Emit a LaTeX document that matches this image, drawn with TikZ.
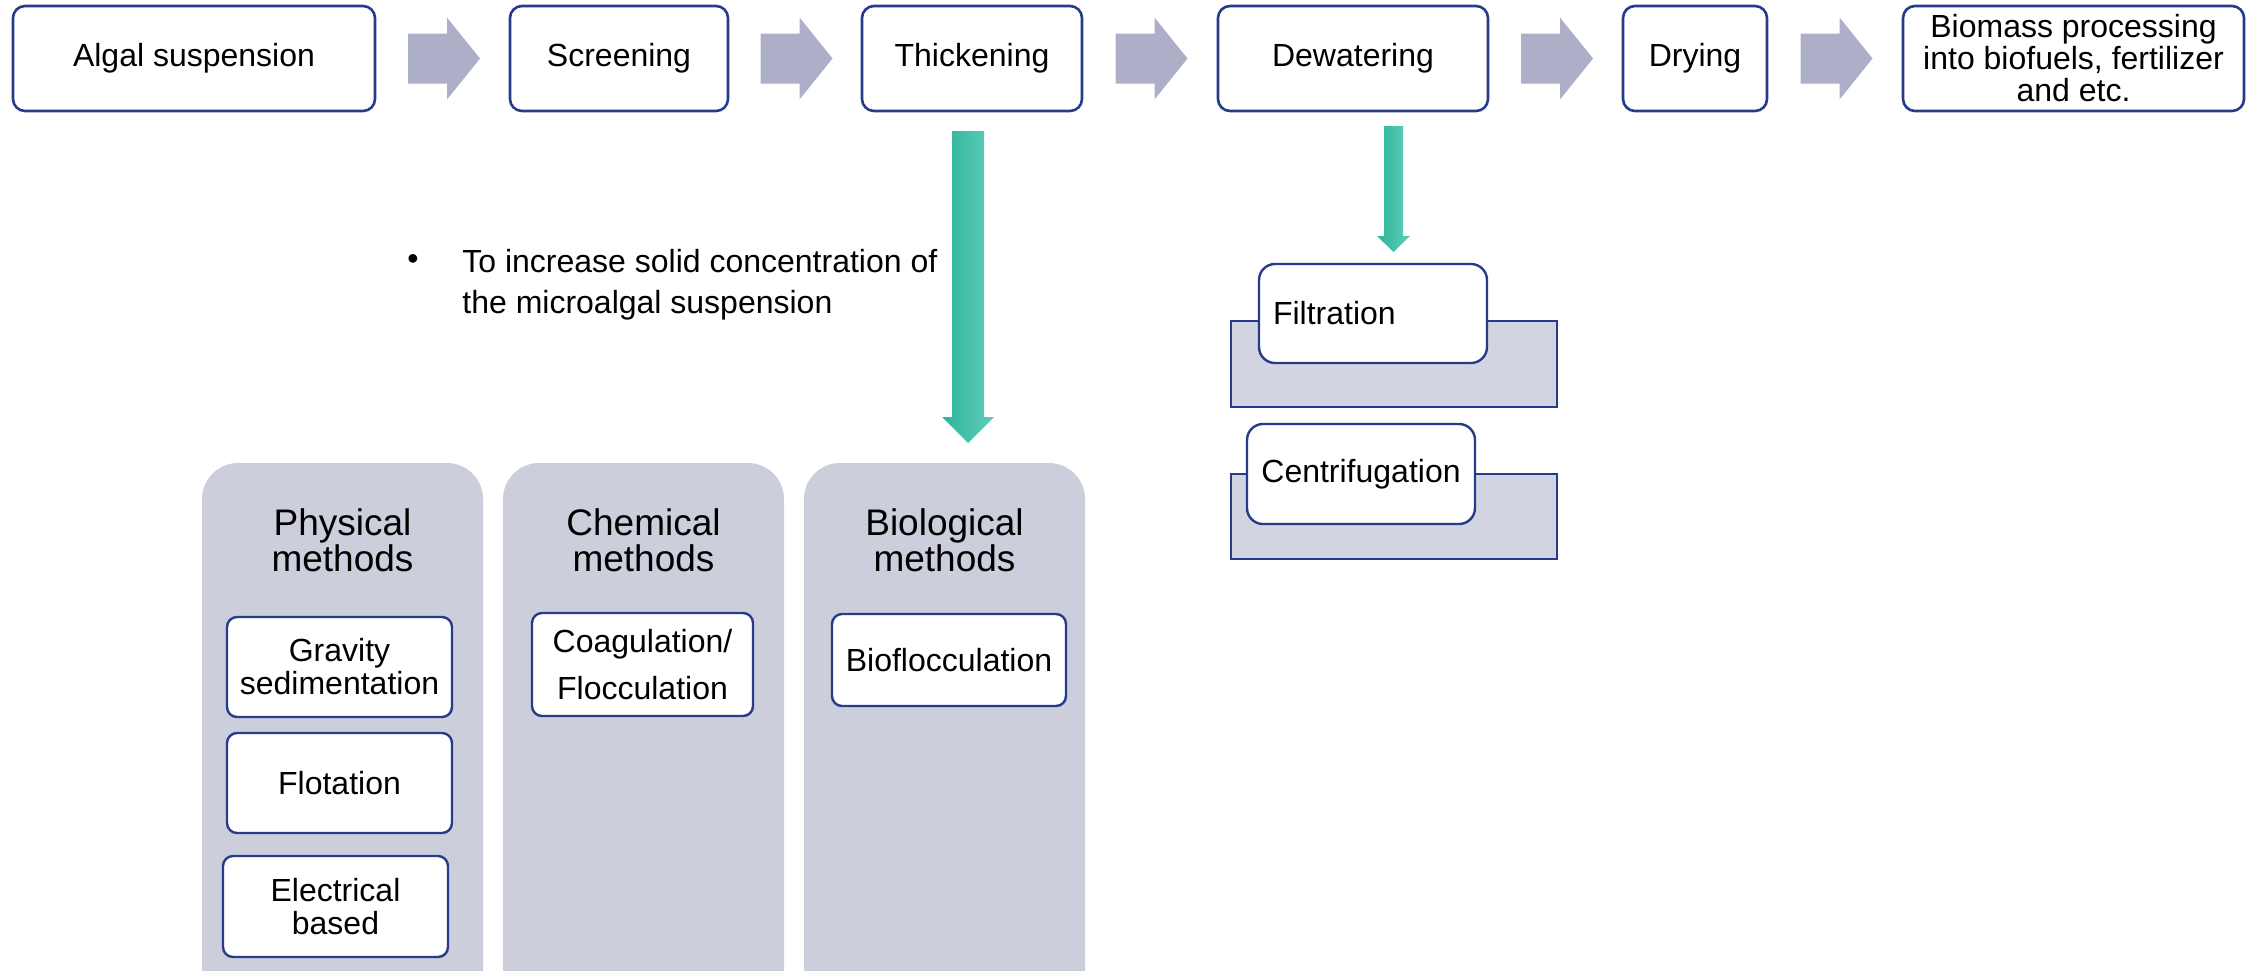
\documentclass[tikz,border=0pt]{standalone}
\usepackage{fontspec}
\setmainfont{Liberation Sans}
\usetikzlibrary{calc}
\definecolor{bdr}{HTML}{263C8A}
\definecolor{barrow}{HTML}{ADAFC8}
\definecolor{panel}{HTML}{CDCEDC}
\definecolor{backfill}{HTML}{D3D4E1}
\definecolor{tealL}{HTML}{2DB59B}
\definecolor{tealR}{HTML}{62CDB9}
\begin{document}
\begin{tikzpicture}[x=0.5pt,y=-0.5pt,
  stepbox/.style={draw=bdr, line width=1.3pt, fill=white, rounded corners=6pt, inner sep=0pt, align=center, minimum height=52.5pt, font=\fontsize{16}{16}\selectfont},
  subbox/.style={draw=bdr, line width=1.2pt, fill=white, rounded corners=5pt, inner sep=0pt, align=center, font=\fontsize{16}{16.5}\selectfont},
  paneltitle/.style={align=center, inner sep=0pt, font=\fontsize{18.5}{18}\selectfont},
  backrect/.style={draw=bdr, line width=1.2pt, fill=backfill},
  blockarrow/.style={fill=barrow},
  teal/.style={left color=tealL, right color=tealR},
  panelfill/.style={fill=panel},
]
\useasboundingbox (0,0) rectangle (2257,970);

% top process boxes
\node[stepbox, minimum width=181pt] (algal) at (194,58.5) {Algal suspension};
\node[stepbox, minimum width=109pt] (screen) at (619,58.5) {Screening};
\node[stepbox, minimum width=110pt] (thick) at (972,58.5) {Thickening};
\node[stepbox, minimum width=135pt] (dewat) at (1353,58.5) {Dewatering};
\node[stepbox, minimum width=72pt] (dry) at (1695,58.5) {Drying};
\node[stepbox, minimum width=170.5pt] (bio) at (2073.5,58.5) {Biomass processing\\into biofuels, fertilizer\\and etc.};

% block arrows between process boxes
\foreach \a/\b in {algal/screen, screen/thick, thick/dewat, dewat/dry, dry/bio}{
  \coordinate (m) at ($(\a.east)!0.5!(\b.west)$);
  \fill[blockarrow, shift={(m)}] (-34.5,-25) -- (4.5,-25) -- (4.5,-41) -- (37.5,0) -- (4.5,41) -- (4.5,25) -- (-34.5,25) -- cycle;
}

% bullet text
\node[anchor=center, inner sep=0pt, font=\fontsize{16}{16}\selectfont] (bullet) at (413,262) {•};
\node[anchor=west, align=left, inner sep=0pt, font=\fontsize{16}{20.5}\selectfont] (note) at (462,284.5) {To increase solid concentration of\\the microalgal suspension};

% panels
\fill[panelfill] (202,975) [rounded corners=18pt] -- (202,463) -- (483,463) [sharp corners] -- (483,975) -- cycle;
\fill[panelfill] (503,975) [rounded corners=18pt] -- (503,463) -- (784,463) [sharp corners] -- (784,975) -- cycle;
\fill[panelfill] (804,975) [rounded corners=18pt] -- (804,463) -- (1085,463) [sharp corners] -- (1085,975) -- cycle;

\node[paneltitle] (phys) at (342.5,540) {Physical\\methods};
\node[paneltitle] (chem) at (643.5,540) {Chemical\\methods};
\node[paneltitle] (biol) at (944.5,540) {Biological\\methods};

\node[subbox, minimum width=112.5pt, minimum height=50pt] (grav) at (339.5,667) {Gravity\\sedimentation};
\node[subbox, minimum width=112.5pt, minimum height=50pt] (flot) at (339.5,783) {Flotation};
\node[subbox, minimum width=112.5pt, minimum height=50.5pt] (elec) at (335.5,906.5) {Electrical\\based};
\node[subbox, minimum width=110.5pt, minimum height=51.5pt, font=\fontsize{16}{23.5}\selectfont] (coag) at (642.5,664.5) {Coagulation/\\Flocculation};
\node[subbox, minimum width=117pt, minimum height=46pt] (biofl) at (949,660) {Bioflocculation};

% teal arrow from Thickening
\coordinate (ta) at (968,131);
\coordinate (tb) at (968,443);
\shade[teal] (952,131) -- (984,131) -- (984,417) -- (994,417) -- (tb) -- (942,417) -- (952,417) -- cycle;

% teal arrow from Dewatering
\coordinate (da) at (1393.5,126);
\coordinate (db) at (1393.5,252);
\shade[teal] (1384,126) -- (1403,126) -- (1403,236) -- (1410,236) -- (db) -- (1377,236) -- (1384,236) -- cycle;

% dewatering methods
\draw[backrect] (1231,321) rectangle (1557,407);
\node[subbox, rounded corners=8pt, minimum width=114pt, minimum height=49.5pt, text width=100pt, inner xsep=7pt, align=left] (filt) at (1373,313.5) {Filtration};
\draw[backrect] (1231,474) rectangle (1557,559);
\node[subbox, rounded corners=8pt, minimum width=114pt, minimum height=50pt] (cent) at (1361,474) {Centrifugation};
\end{tikzpicture}
\end{document}
